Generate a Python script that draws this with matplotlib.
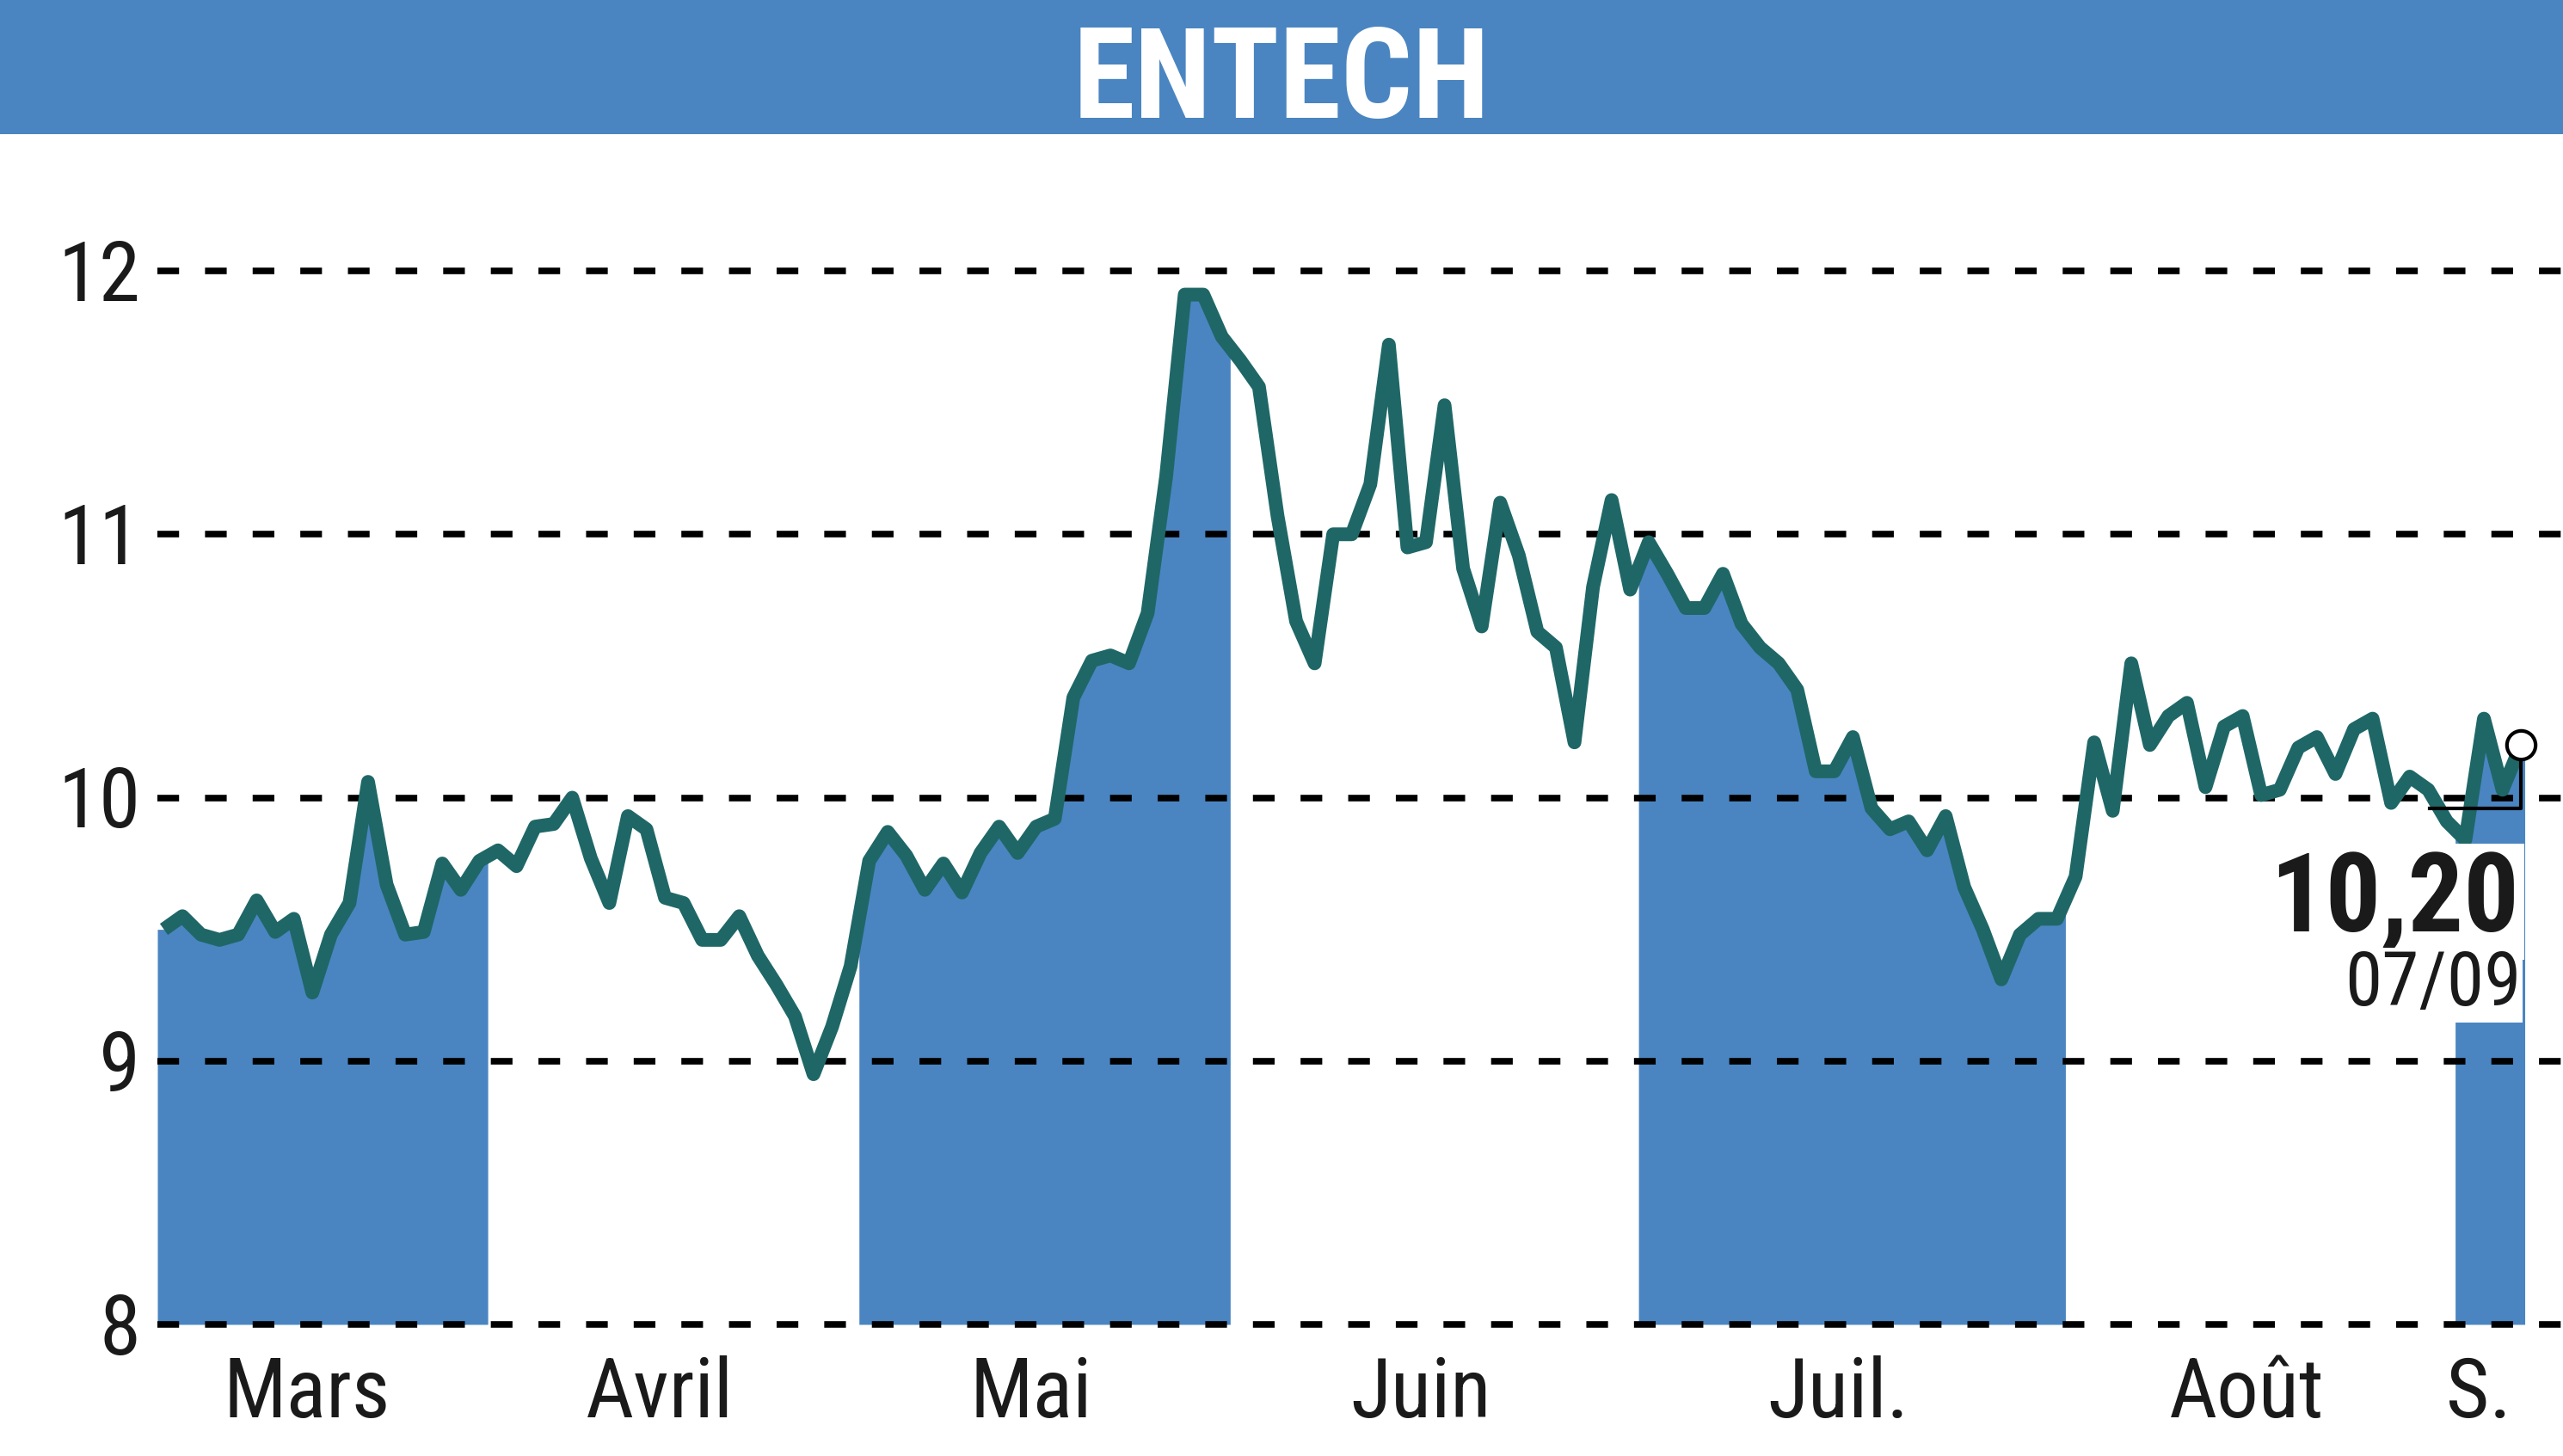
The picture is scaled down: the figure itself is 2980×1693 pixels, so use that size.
import numpy as np
import matplotlib
matplotlib.use("Agg")
import matplotlib.pyplot as plt
import matplotlib.transforms as mtransforms
from matplotlib import font_manager
from matplotlib.patches import Rectangle

# --- data (one value per trading session) ---
title = "ENTECH"
month_names = ["Mars", "Avril", "Mai", "Juin", "Juil.", "Août", "S."]
month_sessions = [18, 20, 20, 22, 23, 21, 4]
prices = [
    # Mars
    9.50, 9.55, 9.48, 9.46, 9.48, 9.61, 9.49, 9.54, 9.26, 9.48,
    9.60, 10.06, 9.67, 9.48, 9.49, 9.75, 9.65, 9.76,
    # Avril
    9.80, 9.74, 9.89, 9.90, 10.00, 9.77, 9.60, 9.93, 9.88, 9.62,
    9.60, 9.46, 9.46, 9.55, 9.40, 9.29, 9.17, 8.95, 9.13, 9.36,
    # Mai
    9.76, 9.87, 9.78, 9.65, 9.75, 9.64, 9.79, 9.89, 9.79, 9.89,
    9.92, 10.38, 10.52, 10.54, 10.51, 10.70, 11.22, 11.91, 11.91, 11.75,
    # Juin
    11.66, 11.56, 11.07, 10.67, 10.51, 11.00, 11.00, 11.19, 11.72, 10.95,
    10.97, 11.49, 10.87, 10.65, 11.12, 10.92, 10.63, 10.57, 10.21, 10.80,
    11.13, 10.79,
    # Juil.
    10.97, 10.85, 10.72, 10.72, 10.85, 10.66, 10.57, 10.51, 10.41, 10.10,
    10.10, 10.23, 9.96, 9.88, 9.91, 9.80, 9.93, 9.66, 9.50, 9.31,
    9.48, 9.54, 9.54,
    # Août
    9.70, 10.21, 9.95, 10.51, 10.20, 10.31, 10.36, 10.04, 10.27, 10.31,
    10.01, 10.03, 10.19, 10.23, 10.09, 10.26, 10.30, 9.98, 10.08, 10.03,
    9.91,
    # Sept.
    9.84, 10.30, 10.03, 10.20,
]
y_ticks = [8, 9, 10, 11, 12]
last_value_label = "10,20"
last_date_label = "07/09"

BLUE = "#4a85c1"
LINE = "#1f6767"
TEXT = "#1a1a1a"

# pick a narrow font if one is installed
available = {f.name for f in font_manager.fontManager.ttflist}
narrow = next((n for n in ["Liberation Sans Narrow", "Roboto Condensed",
                           "Open Sans Condensed"] if n in available), None)
if narrow:
    plt.rcParams["font.family"] = [narrow, "DejaVu Sans"]
else:
    plt.rcParams["font.family"] = ["DejaVu Sans"]
    plt.rcParams["font.stretch"] = "condensed"

W, H = 2980, 1693
fig = plt.figure(figsize=(W / 100, H / 100), dpi=100)

# title banner
fig.add_artist(Rectangle((0, 1 - 156 / H), 1, 156 / H, transform=fig.transFigure,
                         color=BLUE, lw=0, zorder=0))
fig.text(0.5, 1 - 137 / H, title, ha="center", va="baseline", fontsize=105,
         fontweight="bold", color="white")

ax = fig.add_axes([183 / W, 153 / H, (W - 183) / W, 1225 / H])
ax.set_xlim(-0.35, 129.26)
ax.set_ylim(8, 12)
ax.axis("off")

x = np.arange(len(prices))
starts = np.concatenate([[0], np.cumsum(month_sessions)[:-1]])
ends = np.cumsum(month_sessions) - 1

# shaded area under the curve for every other month
for k in range(0, len(month_names), 2):
    a = starts[k] - 0.55 if k > 0 else -0.35
    b = ends[k] + 0.45 if k < len(month_names) - 1 else ends[k] + 0.2
    xs = np.concatenate([[a], x[(x > a) & (x < b)], [b]])
    ys = np.interp(xs, x, prices)
    ax.fill_between(xs, 8, ys, color=BLUE, lw=0, zorder=1)

for v in y_ticks:
    ax.axhline(v, color="black", lw=5.5, ls=(0, (3.3, 3.95)), zorder=2,
               clip_on=False)

ax.plot(x, prices, color=LINE, lw=11.5, solid_joinstyle="round",
        solid_capstyle="butt", zorder=3, clip_on=False)

# last value marker and bracket
ax.plot([x[-1] - 4.9, x[-1], x[-1]], [9.96, 9.96, prices[-1]],
        color="black", lw=3, zorder=4, clip_on=False)
ax.plot(x[-1], prices[-1], "o", ms=24, mfc="white", mec="black", mew=3,
        zorder=5, clip_on=False)

ax.text(x[-1] - 0.1, 9.49, last_value_label, ha="right", va="baseline",
        fontsize=92, fontweight="bold", color=TEXT, zorder=6,
        bbox=dict(boxstyle="square,pad=0.05", fc="white", ec="none"))
ax.text(x[-1], 9.21, last_date_label, ha="right", va="baseline",
        fontsize=63, color=TEXT, zorder=7,
        bbox=dict(boxstyle="square,pad=0.02", fc="white", ec="none"))

# axis labels
ytrans = mtransforms.blended_transform_factory(ax.transAxes, ax.transData)
for v in y_ticks:
    ax.text(-0.00715, v - 0.114, str(v), transform=ytrans, ha="right",
            va="baseline", fontsize=70, color=TEXT)

xtrans = mtransforms.blended_transform_factory(ax.transData, ax.transAxes)
for name, s, e in zip(month_names, starts, ends):
    ax.text((s + e) / 2 - 0.8, -0.0882, name, transform=xtrans, ha="center",
            va="baseline", fontsize=70, color=TEXT)

fig.savefig("out.png", dpi=100)
